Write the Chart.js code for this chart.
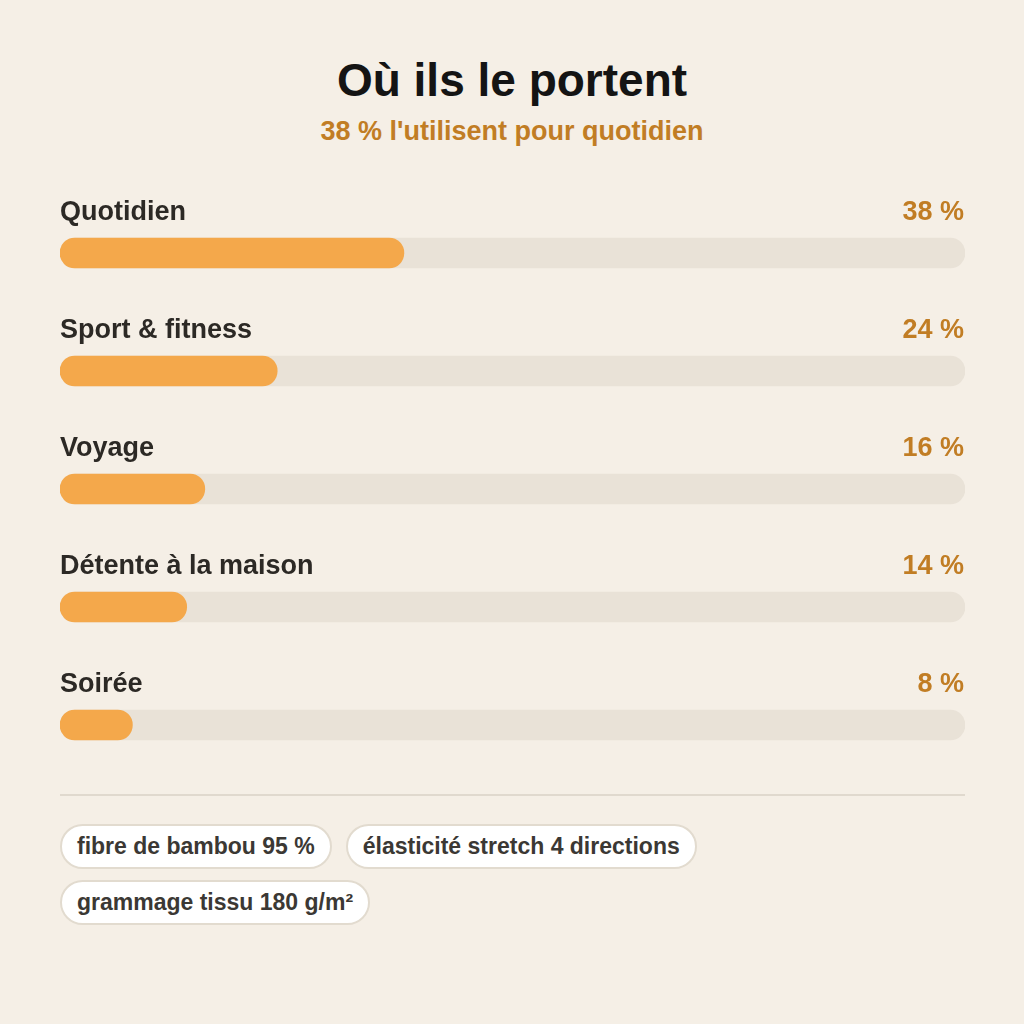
<!DOCTYPE html>
<html>
<head>
<meta charset="utf-8">
<script src="https://cdn.jsdelivr.net/npm/chart.js@4/dist/chart.umd.min.js"></script>
<style>
  html, body { margin: 0; padding: 0; background: #f5efe6; }
  body { width: 1024px; height: 1024px; position: relative; overflow: hidden; font-family: "Liberation Sans", Arial, sans-serif; }
  #title { position: absolute; top: 52px; left: 0; width: 1024px; text-align: center; font-size: 46px; font-weight: bold; color: #141414; line-height: 56px; }
  #subtitle { position: absolute; top: 116px; left: 0; width: 1024px; text-align: center; font-size: 27px; font-weight: bold; color: #c17d24; line-height: 30px; }
  #wrap { position: absolute; top: 170px; left: 0; width: 1024px; height: 620px; }
  #divider { position: absolute; top: 794px; left: 60px; width: 905px; height: 2px; background: #e0d9ce; }
  #pills { position: absolute; top: 824px; left: 60px; width: 905px; display: flex; flex-wrap: wrap; gap: 11px 14px; }
  .pill { box-sizing: border-box; height: 45px; line-height: 41px; padding: 0 15px; border: 2px solid #e2dbcf; border-radius: 23px; background: #ffffff; font-family: "Liberation Sans", Arial, sans-serif; font-weight: bold; font-size: 23px; color: #3b3834; white-space: nowrap; }
</style>
</head>
<body>
<div id="title"></div>
<div id="subtitle"></div>
<div id="wrap"><canvas id="c" width="1024" height="620"></canvas></div>
<div id="divider"></div>
<div id="pills"></div>
<script>
const titleText = "Où ils le portent";
const subtitleText = "38 % l'utilisent pour quotidien";
const categories = ["Quotidien", "Sport & fitness", "Voyage", "Détente à la maison", "Soirée"];
const values = [38, 24, 16, 14, 8];
const trackValues = [100, 100, 100, 100, 100];
const tags = ["fibre de bambou 95 %", "élasticité stretch 4 directions", "grammage tissu 180 g/m²"];

document.getElementById("title").textContent = titleText;
document.getElementById("subtitle").textContent = subtitleText;
const pills = document.getElementById("pills");
tags.forEach(t => { const d = document.createElement("div"); d.className = "pill"; d.textContent = t; pills.appendChild(d); });

const labelPlugin = {
  id: "rowLabels",
  afterDatasetsDraw(chart) {
    const ctx = chart.ctx;
    const meta = chart.getDatasetMeta(1);
    const area = chart.chartArea;
    ctx.save();
    ctx.textBaseline = "middle";
    meta.data.forEach((bar, i) => {
      const y = bar.y - 40;
      ctx.font = "bold 27px 'Liberation Sans', Arial, sans-serif";
      ctx.fillStyle = "#2c2925";
      ctx.textAlign = "left";
      ctx.fillText(categories[i], area.left, y);
      ctx.fillStyle = "#c17d24";
      ctx.textAlign = "right";
      ctx.fillText(values[i] + " %", area.right - 1, y);
    });
    ctx.restore();
  }
};

new Chart(document.getElementById("c"), {
  type: "bar",
  data: {
    labels: categories,
    datasets: [
      { data: trackValues, backgroundColor: "#e9e2d7", borderRadius: 15, borderSkipped: false, barThickness: 30, grouped: false, order: 2 },
      { data: values, backgroundColor: "#f4a84b", borderRadius: 15, borderSkipped: false, barThickness: 30, grouped: false, order: 1 }
    ]
  },
  options: {
    indexAxis: "y",
    responsive: false,
    animation: false,
    layout: { padding: { left: 60, right: 59, top: 24, bottom: 6 } },
    scales: {
      x: { display: false, min: 0, max: 100 },
      y: { display: false }
    },
    plugins: { legend: { display: false }, tooltip: { enabled: false }, title: { display: false } }
  },
  plugins: [labelPlugin]
});
</script>
</body>
</html>
